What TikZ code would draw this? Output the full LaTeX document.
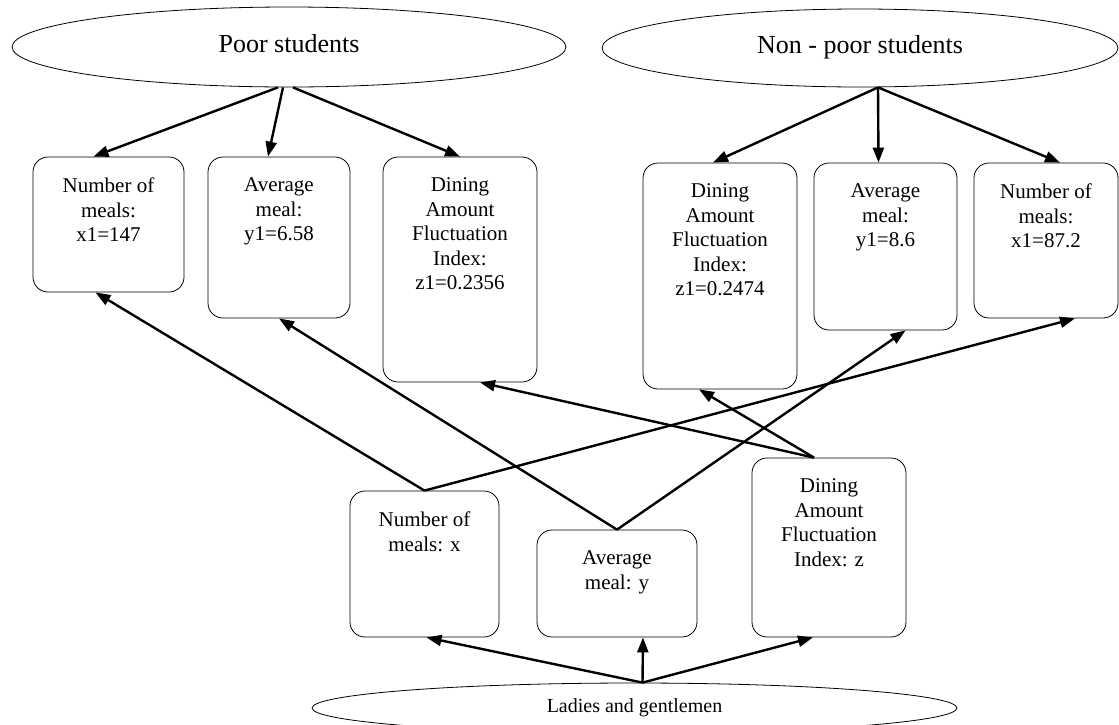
\documentclass[tikz,border=0pt]{standalone}
\usepackage{fontspec}
\setmainfont{Liberation Serif}
\usetikzlibrary{shapes.geometric,arrows.meta}
\newcommand{\statbox}[3]{\parbox[c][#2][t]{#1}{\centering\vspace*{21pt}#3}}
\tikzset{
  cohort/.style={draw, ellipse, inner sep=0pt, line width=0.8pt},
  stat/.style={draw, rounded corners=15pt, inner sep=0pt, line width=0.8pt, font=\fontsize{21}{24.5}\selectfont},
  link/.style={-{Triangle[length=15pt,width=11pt]}, line width=2.4pt}
}

\begin{document}
\begin{tikzpicture}[x=1pt,y=-1pt]
    \useasboundingbox (0,0) rectangle (1119,724);
    \node[cohort, minimum width=554pt, minimum height=80pt, text depth=8pt, font=\fontsize{26}{30}\selectfont] (poor) at (289,47) {Poor students};
    \node[cohort, minimum width=516pt, minimum height=78pt, text depth=8pt, font=\fontsize{26}{30}\selectfont] (nonpoor) at (860,48) {Non - poor students};
    \node[cohort, minimum width=645pt, minimum height=50pt, font=\fontsize{20}{24}\selectfont] (all) at (634.5,708) {Ladies and gentlemen};

    \node[stat] (p1) at (108.5,224.5) {\statbox{151pt}{135pt}{Number of\\meals:\\x1=147}};
    \node[stat] (p2) at (279,237.5) {\statbox{142pt}{161pt}{Average\\meal:\\y1=6.58}};
    \node[stat] (p3) at (460,269.5) {\statbox{154pt}{225pt}{Dining\\Amount\\Fluctuation\\Index:\\z1=0.2356}};
    \node[stat] (n3) at (720,276) {\statbox{154pt}{226pt}{Dining\\Amount\\Fluctuation\\Index:\\z1=0.2474}};
    \node[stat] (n2) at (885.5,246.5) {\statbox{143pt}{167pt}{Average\\meal:\\y1=8.6}};
    \node[stat] (n1) at (1046,240.5) {\statbox{144pt}{155pt}{Number of\\meals:\\x1=87.2}};
    \node[stat] (a1) at (424.5,564) {\statbox{149pt}{146pt}{Number of\\meals: x}};
    \node[stat] (a2) at (617,583.5) {\statbox{160pt}{107pt}{Average\\meal: y}};
    \node[stat] (a3) at (829,547.5) {\statbox{154pt}{179pt}{Dining\\Amount\\Fluctuation\\Index: z}};

    \draw[link] ([xshift=-11pt]poor.south) -- ([xshift=-15pt]p1.north);
    \draw[link] ([xshift=-6pt]poor.south) -- ([xshift=-11pt]p2.north);
    \draw[link] ([xshift=4pt]poor.south) -- (p3.north);
    \draw[link] ([xshift=18pt]nonpoor.south) -- ([xshift=-7pt]n3.north);
    \draw[link] ([xshift=18pt]nonpoor.south) -- ([xshift=-7pt]n2.north);
    \draw[link] ([xshift=18pt]nonpoor.south) -- ([xshift=14pt]n1.north);

    \draw[link] (a1.north) -- ([xshift=-13pt]p1.south);
    \draw[link] (a1.north) -- ([xshift=29pt]n1.south);
    \draw[link] (a2.north) -- (p2.south);
    \draw[link] (a2.north) -- ([xshift=20pt]n2.south);
    \draw[link] ([xshift=-15pt]a3.north) -- ([xshift=20pt]p3.south);
    \draw[link] ([xshift=-15pt]a3.north) -- ([xshift=-21pt]n3.south);

    \draw[link] ([xshift=8pt]all.north) -- ([xshift=2pt]a1.south);
    \draw[link] ([xshift=8pt]all.north) -- ([xshift=26pt]a2.south);
    \draw[link] ([xshift=8pt]all.north) -- ([xshift=-16pt]a3.south);
\end{tikzpicture}
\end{document}
